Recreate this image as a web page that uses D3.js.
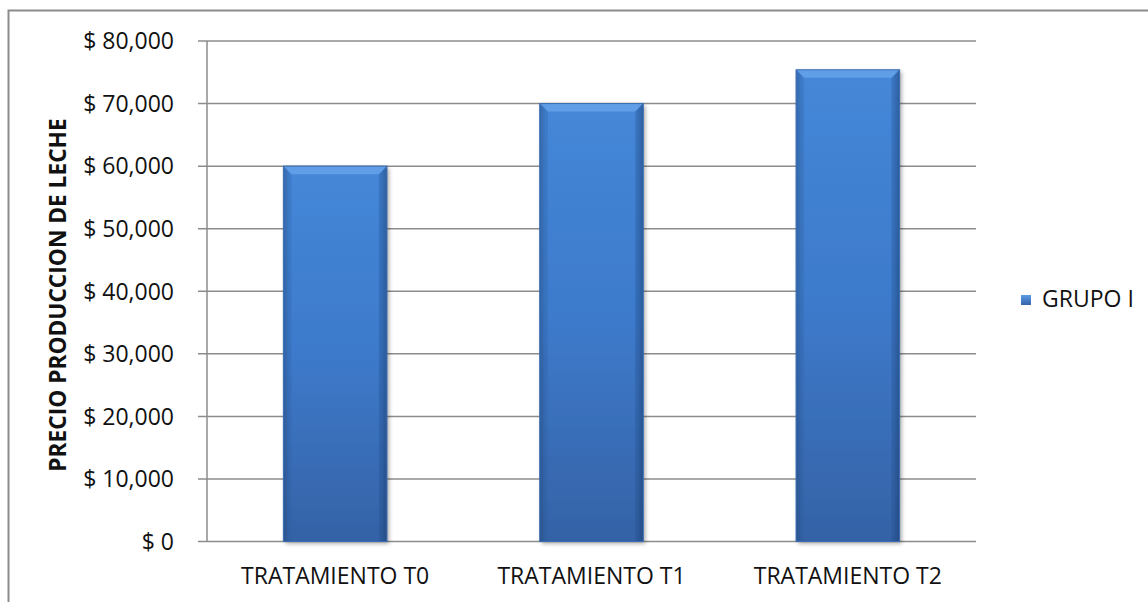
<!DOCTYPE html>
<html><head><meta charset="utf-8">
<script src="https://cdn.jsdelivr.net/npm/d3@7"></script>
<style>body{margin:0;background:#fff}svg{display:block}</style>
</head><body>
<svg id="c" width="1148" height="602"></svg>
<script>
const categories = ["TRATAMIENTO T0", "TRATAMIENTO T1", "TRATAMIENTO T2"];
const seriesName = "GRUPO I";
const values = [60000, 70000, 75400];
const yTicks = [0, 10000, 20000, 30000, 40000, 50000, 60000, 70000, 80000];
const yTitle = "PRECIO PRODUCCION DE LECHE";

(function(){
const svg = d3.select("#c");
const font = "'Open Sans', sans-serif";
const pL = 207, pR = 976, pT = 41, pB = 541.5;

const defs = svg.append("defs");
const g1 = defs.append("linearGradient").attr("id","barg").attr("x1",0).attr("y1",0).attr("x2",0).attr("y2",1);
g1.append("stop").attr("offset","0%").attr("stop-color","#4587d8");
g1.append("stop").attr("offset","50%").attr("stop-color","#3d7acb");
g1.append("stop").attr("offset","100%").attr("stop-color","#3562a6");
const g2 = defs.append("linearGradient").attr("id","sideg").attr("x1",0).attr("y1",0).attr("x2",1).attr("y2",0);
g2.append("stop").attr("offset","0%").attr("stop-color","#000").attr("stop-opacity",0.18);
g2.append("stop").attr("offset","6%").attr("stop-color","#000").attr("stop-opacity",0);
g2.append("stop").attr("offset","94%").attr("stop-color","#000").attr("stop-opacity",0);
g2.append("stop").attr("offset","100%").attr("stop-color","#000").attr("stop-opacity",0.22);
const f = defs.append("filter").attr("id","sh").attr("x","-10%").attr("y","-10%").attr("width","130%").attr("height","130%");
f.append("feGaussianBlur").attr("in","SourceAlpha").attr("stdDeviation",2);
f.append("feOffset").attr("dx",2).attr("dy",2).attr("result","b");
f.append("feComponentTransfer").append("feFuncA").attr("type","linear").attr("slope",0.35);
const m = f.append("feMerge"); m.append("feMergeNode"); m.append("feMergeNode").attr("in","SourceGraphic");
const lg = defs.append("linearGradient").attr("id","legg").attr("x1",0).attr("y1",0).attr("x2",0).attr("y2",1);
lg.append("stop").attr("offset","0%").attr("stop-color","#5b9be6");
lg.append("stop").attr("offset","100%").attr("stop-color","#3563a8");

svg.append("rect").attr("x",8.5).attr("y",10.5).attr("width",1160).attr("height",620)
  .attr("fill","none").attr("stroke","#8c8c8c").attr("stroke-width",2);

const y = d3.scaleLinear().domain([0,80000]).range([pB, pT]);
const x = d3.scaleBand().domain(categories).range([pL, pR]).padding(0);

svg.append("g").selectAll("line").data(yTicks).join("line")
  .attr("x1", pL-9).attr("x2", pR).attr("y1", d=>y(d)).attr("y2", d=>y(d))
  .attr("stroke","#8c8c8c").attr("stroke-width",1.5);
svg.append("line").attr("x1",pL).attr("x2",pL).attr("y1",pT).attr("y2",pB)
  .attr("stroke","#8c8c8c").attr("stroke-width",1.5);

const fmt = d3.format(",");
svg.append("g").selectAll("text").data(yTicks).join("text")
  .attr("x", 174).attr("y", d=>y(d)).attr("dy","0.36em").attr("text-anchor","end")
  .attr("font-family",font).attr("font-size",23).attr("fill","#111")
  .text(d=>"$ " + fmt(d));

const bw = x.bandwidth()*0.404;
const bars = svg.append("g").selectAll("g").data(values).join("g");
bars.each(function(v,i){
  const gx = x(categories[i]) + x.bandwidth()/2 - bw/2;
  const gy = y(v), h = y(0)-y(v);
  const gg = d3.select(this);
  gg.append("rect").attr("x",gx).attr("y",gy).attr("width",bw).attr("height",h)
    .attr("fill","url(#barg)").attr("filter","url(#sh)");
  gg.append("rect").attr("x",gx).attr("y",gy).attr("width",bw).attr("height",h).attr("fill","url(#sideg)");
  const b = 8;
  gg.append("polygon").attr("points",`${gx},${gy} ${gx+bw},${gy} ${gx+bw-b},${gy+b} ${gx+b},${gy+b}`)
    .attr("fill","#6aa6ee").attr("opacity",0.75);
  gg.append("polygon").attr("points",`${gx},${gy} ${gx+b},${gy+b} ${gx+b},${gy+h} ${gx},${gy+h}`)
    .attr("fill","#2c5b9c").attr("opacity",0.25);
  gg.append("polygon").attr("points",`${gx+bw},${gy} ${gx+bw-b},${gy+b} ${gx+bw-b},${gy+h} ${gx+bw},${gy+h}`)
    .attr("fill","#1f4a85").attr("opacity",0.3);
  gg.append("rect").attr("x",gx).attr("y",gy).attr("width",bw).attr("height",h)
    .attr("fill","none").attr("stroke","#3a6db3").attr("stroke-width",1);
});

svg.append("g").selectAll("text").data(categories).join("text")
  .attr("x", d=>x(d)+x.bandwidth()/2).attr("y", 584).attr("text-anchor","middle")
  .attr("font-family",font).attr("font-size",23).attr("fill","#111").text(d=>d);

svg.append("text").attr("transform",`translate(66,295) rotate(-90)`).attr("text-anchor","middle")
  .attr("font-family",font).attr("font-size",22.7).attr("font-weight","bold").attr("fill","#111").text(yTitle);

svg.append("rect").attr("x",1021).attr("y",295).attr("width",10).attr("height",10).attr("fill","url(#legg)");
svg.append("text").attr("x",1042).attr("y",307).attr("font-family",font).attr("font-size",23)
  .attr("fill","#111").text(seriesName);
})();
</script>
</body></html>
